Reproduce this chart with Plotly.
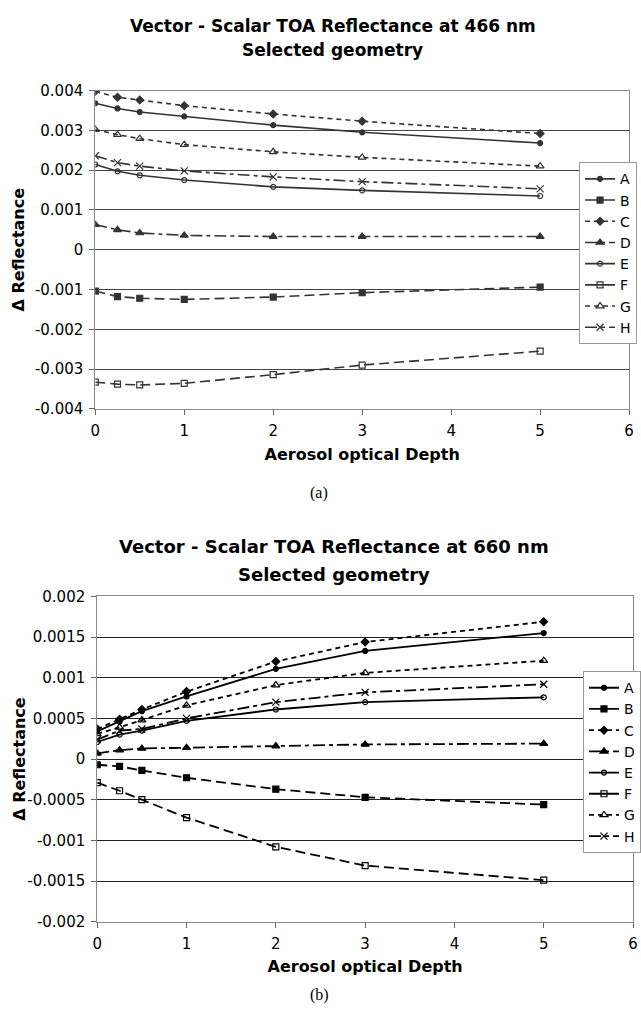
import plotly.graph_objects as go

aod = [0, 0.25, 0.5, 1, 2, 3, 5]
series_names = ["A", "B", "C", "D", "E", "F", "G", "H"]

# 466 nm
a466 = [0.00368, 0.00355, 0.00346, 0.00335, 0.00313, 0.00295, 0.00268]
b466 = [-0.00104, -0.00118, -0.00122, -0.00125, -0.00119, -0.00108, -0.00094]
c466 = [0.00398, 0.00383, 0.00376, 0.00362, 0.00341, 0.00323, 0.00292]
d466 = [0.00063, 0.00050, 0.00042, 0.00036, 0.00033, 0.00033, 0.00033]
e466 = [0.00214, 0.00197, 0.00187, 0.00175, 0.00158, 0.00149, 0.00135]
f466 = [-0.00333, -0.00338, -0.00340, -0.00336, -0.00314, -0.00290, -0.00255]
g466 = [0.00302, 0.00289, 0.00279, 0.00264, 0.00246, 0.00232, 0.00210]
h466 = [0.00236, 0.00219, 0.00210, 0.00198, 0.00183, 0.00171, 0.00153]

# 660 nm
a660 = [0.00034, 0.00046, 0.00059, 0.00077, 0.00111, 0.00133, 0.00155]
b660 = [-0.00007, -0.00009, -0.00014, -0.00023, -0.00037, -0.00047, -0.00056]
c660 = [0.00037, 0.00049, 0.00061, 0.00083, 0.00120, 0.00144, 0.00169]
d660 = [0.00007, 0.00011, 0.00013, 0.00014, 0.00016, 0.00018, 0.00019]
e660 = [0.00021, 0.00030, 0.00035, 0.00047, 0.00061, 0.00070, 0.00076]
f660 = [-0.00029, -0.00039, -0.00050, -0.00072, -0.00108, -0.00131, -0.00149]
g660 = [0.00031, 0.00039, 0.00048, 0.00066, 0.00091, 0.00106, 0.00121]
h660 = [0.00024, 0.00035, 0.00037, 0.00050, 0.00070, 0.00082, 0.00092]

xticks = [0, 1, 2, 3, 4, 5, 6]
yticks466 = [-0.004, -0.003, -0.002, -0.001, 0, 0.001, 0.002, 0.003, 0.004]
yticklabels466 = ["-0.004", "-0.003", "-0.002", "-0.001", "0", "0.001", "0.002", "0.003", "0.004"]
yticks660 = [-0.002, -0.0015, -0.001, -0.0005, 0, 0.0005, 0.001, 0.0015, 0.002]
yticklabels660 = ["-0.002", "-0.0015", "-0.001", "-0.0005", "0", "0.0005", "0.001", "0.0015", "0.002"]

styles = {
    "A": dict(dash="solid", legdash="solid", symbol="circle", size=5),
    "B": dict(dash="10px,5px", legdash="solid", symbol="square", size=6),
    "C": dict(dash="5px,4px", legdash="5px,4px", symbol="diamond", size=6),
    "D": dict(dash="12px,4px,4px,4px", legdash="12px,4px,4px,4px", symbol="triangle-up", size=7),
    "E": dict(dash="solid", legdash="solid", symbol="circle-open", size=5),
    "F": dict(dash="10px,5px", legdash="solid", symbol="square-open", size=6),
    "G": dict(dash="5px,4px", legdash="5px,4px", symbol="triangle-up-open", size=7),
    "H": dict(dash="12px,4px,4px,4px", legdash="12px,4px,4px,4px", symbol="x-thin-open", size=7),
}

data466 = [a466, b466, c466, d466, e466, f466, g466, h466]
data660 = [a660, b660, c660, d660, e660, f660, g660, h660]

fig = go.Figure()
W, H = 641, 1023


def add_series(datasets, color, width, xa, ya, leg):
    for name, ys in zip(series_names, datasets):
        st = styles[name]
        marker = dict(symbol=st["symbol"], size=st["size"], color=color,
                      line=dict(color=color, width=1.2))
        fig.add_trace(go.Scatter(
            x=aod, y=ys, name=name, mode="lines+markers",
            line=dict(color=color, width=width, dash=st["dash"]),
            marker=marker, xaxis=xa, yaxis=ya, showlegend=False))
        # legend entry (the original legend draws some dashed series as solid)
        fig.add_trace(go.Scatter(
            x=[None], y=[None], name=name, mode="lines+markers",
            line=dict(color=color, width=width, dash=st["legdash"]),
            marker=marker, xaxis=xa, yaxis=ya, legend=leg, showlegend=True,
            hoverinfo="skip"))


add_series(data466, "#333333", 1.6, "x", "y", "legend")
add_series(data660, "black", 1.8, "x2", "y2", "legend2")

tickfont = dict(family="DejaVu Sans", size=15, color="black")
titlefont = dict(family="DejaVu Sans", size=16, color="black", weight="bold")


def xaxis_cfg(dom, anchor):
    return dict(domain=dom, anchor=anchor, range=[0, 6], tickvals=xticks,
                ticks="outside", ticklen=5, tickcolor="#666", showgrid=False,
                zeroline=False, showline=True, linecolor="#888", linewidth=1, mirror=True,
                tickfont=tickfont, ticklabelstandoff=3,
                title=dict(text="Aerosol optical Depth", font=titlefont, standoff=9))


def yaxis_cfg(dom, anchor, rng, tv, tt, gridcolor):
    return dict(domain=dom, anchor=anchor, range=rng, tickvals=tv, ticktext=tt,
                ticks="outside", ticklen=5, tickcolor="#666", showgrid=True,
                gridcolor=gridcolor, gridwidth=1, zeroline=False,
                showline=True, linecolor="#888", linewidth=1, mirror=True,
                tickfont=tickfont, ticklabelstandoff=3)


top_y0, top_y1 = 83, 407
bot_y0, bot_y1 = 598, 929

legfont = dict(family="DejaVu Sans", size=14, color="black")
fig.update_layout(
    width=W, height=H,
    margin=dict(l=0, r=0, t=0, b=0),
    paper_bgcolor="white", plot_bgcolor="white",
    xaxis=xaxis_cfg([92 / W, 636 / W], "y"),
    yaxis=yaxis_cfg([1 - top_y1 / H, 1 - top_y0 / H], "x", [-0.004, 0.004], yticks466, yticklabels466, "#444444"),
    xaxis2=xaxis_cfg([94 / W, 640 / W], "y2"),
    yaxis2=yaxis_cfg([1 - bot_y1 / H, 1 - bot_y0 / H], "x2", [-0.002, 0.002], yticks660, yticklabels660, "#222222"),
    legend=dict(x=585 / W, y=1 - 156 / H, xanchor="left", yanchor="top",
                bgcolor="white", bordercolor="#999", borderwidth=1,
                font=legfont, itemwidth=30, tracegroupgap=0),
    legend2=dict(x=589 / W, y=1 - 674 / H, xanchor="left", yanchor="top",
                 bgcolor="white", bordercolor="#999", borderwidth=1,
                 font=legfont, itemwidth=30, tracegroupgap=0),
    showlegend=True,
    hovermode=False,
)


def add_text(text, xpx, ypx, font, angle=0):
    fig.add_annotation(x=xpx / W, y=1 - ypx / H, xref="paper", yref="paper", showarrow=False,
                       text=text, font=font, textangle=angle, xanchor="center", yanchor="middle")


t1 = dict(family="DejaVu Sans", size=17, color="black", weight="bold")
t2 = dict(family="DejaVu Sans", size=18, color="black", weight="bold")
add_text("Vector - Scalar TOA Reflectance at 466 nm", 334, 17, t1)
add_text("Selected geometry", 334, 42, t1)
add_text("Vector - Scalar TOA Reflectance at 660 nm", 335, 547, t2)
add_text("Selected geometry", 335, 576, t2)

add_text("Δ Reflectance", 14, (top_y0 + top_y1) / 2, titlefont, -90)
add_text("Δ Reflectance", 14, (bot_y0 + bot_y1) / 2, titlefont, -90)

serif = dict(family="Liberation Serif", size=16, color="black")
add_text("(a)", 320, 493, serif)
add_text("(b)", 320, 1004, serif)

fig.write_html("out.html", config={"displayModeBar": False, "staticPlot": True}, post_script=(
    "document.documentElement.style.margin='0';"
    "document.documentElement.style.overflow='hidden';"
    "document.body.style.margin='0';document.body.style.padding='0';"
    "document.body.style.overflow='hidden';"))
